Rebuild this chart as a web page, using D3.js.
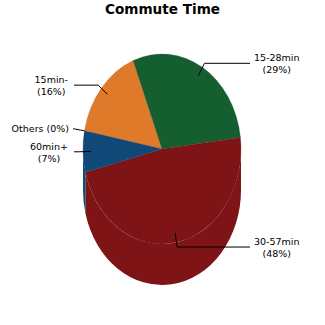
<!DOCTYPE html>
<html><head><meta charset="utf-8">
<script src="https://cdn.jsdelivr.net/npm/d3@7/dist/d3.min.js"></script>
<style>body{margin:0;background:#fff}svg{display:block}</style>
</head><body>
<svg id="c" width="325" height="325"></svg>
<script>
const categories = ["15min-", "15-28min", "30-57min", "60min+", "Others"];
const values = [16, 29, 48, 7, 0];
const percentLabels = ["(16%)", "(29%)", "(48%)", "(7%)", "(0%)"];
const colors = ["#e07a2b", "#155e30", "#7f1416", "#104878", "#8a8a8a"];
const titleText = "Commute Time";

const svg = d3.select("#c");
const cx = 162, cy = 149, rx = 79, ry = 95, depth = 41;
const deg = Math.PI / 180;

svg.append("text").attr("x", 162.5).attr("y", 14).attr("text-anchor", "middle")
  .attr("font-family", "DejaVu Sans").attr("font-weight", "bold").attr("font-size", 13.6)
  .attr("fill", "#000").text(titleText);

const pie = d3.pie().sort(null).value(d => d).startAngle(-79 * deg).endAngle(281 * deg);
const arcs = pie(values);

const pt = (a, dy = 0) => [cx + rx * Math.sin(a), cy - ry * Math.cos(a) + dy];

// side walls (front half only)
const sideG = svg.append("g");
arcs.forEach((d, i) => {
  const a0 = Math.max(d.startAngle, 90 * deg), a1 = Math.min(d.endAngle, 270 * deg);
  if (a1 <= a0) return;
  const p0 = pt(a0), p1 = pt(a1), q1 = pt(a1, depth), q0 = pt(a0, depth);
  const large = (a1 - a0) > Math.PI ? 1 : 0;
  const path = `M${p0}A${rx},${ry} 0 ${large} 1 ${p1}L${q1}A${rx},${ry} 0 ${large} 0 ${q0}Z`;
  sideG.append("path").attr("d", path).attr("fill", colors[i]);
});

// top faces
const arcGen = d3.arc().innerRadius(0).outerRadius(1);
const topG = svg.append("g").attr("transform", `translate(${cx},${cy}) scale(${rx},${ry})`);
arcs.forEach((d, i) => {
  if (d.endAngle - d.startAngle <= 0) return;
  topG.append("path").attr("d", arcGen(d)).attr("fill", colors[i])
    .attr("stroke", d3.color(colors[i]).darker(0.5)).attr("stroke-width", 0.8)
    .attr("stroke-opacity", 0.3).attr("vector-effect", "non-scaling-stroke");
});

// labels
const font = "DejaVu Sans", fs = 9.5;
const lab = svg.append("g").attr("font-family", font).attr("font-size", fs).attr("fill", "#000");
arcs.forEach((d, i) => {
  const mid = (d.startAngle + d.endAngle) / 2;
  const right = Math.sin(mid) > 0;
  const single = values[i] === 0;
  const anchorR = single ? 1.0 : 0.9;
  const A = [cx + rx * anchorR * Math.sin(mid), cy - ry * anchorR * Math.cos(mid)];
  let E = [cx + rx * 1.05 * Math.sin(mid), cy - ry * 1.05 * Math.cos(mid)];
  if (i === 2) E = [A[0] + 2, A[1] + 14];
  if (single) E = [A[0] - 10, A[1] - 2];
  const endX = right ? 250 : (single ? 73 : 74);
  const lineY = E[1];
  svg.append("path").attr("d", `M${A}L${E}L${endX},${lineY}`).attr("fill", "none")
    .attr("stroke", "#000").attr("stroke-width", 1);
  if (single) {
    lab.append("text").attr("x", endX - 4).attr("y", lineY + 3.5).attr("text-anchor", "end")
      .text(categories[i] + " " + percentLabels[i]);
    return;
  }
  const g = lab.append("g");
  const t1 = g.append("text").attr("y", lineY - 2).attr("text-anchor", "middle").text(categories[i]);
  const t2 = g.append("text").attr("y", lineY + 10).attr("text-anchor", "middle").text(percentLabels[i]);
  const w = Math.max(t1.node().getComputedTextLength(), t2.node().getComputedTextLength());
  const xc = right ? endX + 4 + w / 2 : endX - 6 - w / 2;
  t1.attr("x", xc); t2.attr("x", xc);
});
</script>
</body></html>
